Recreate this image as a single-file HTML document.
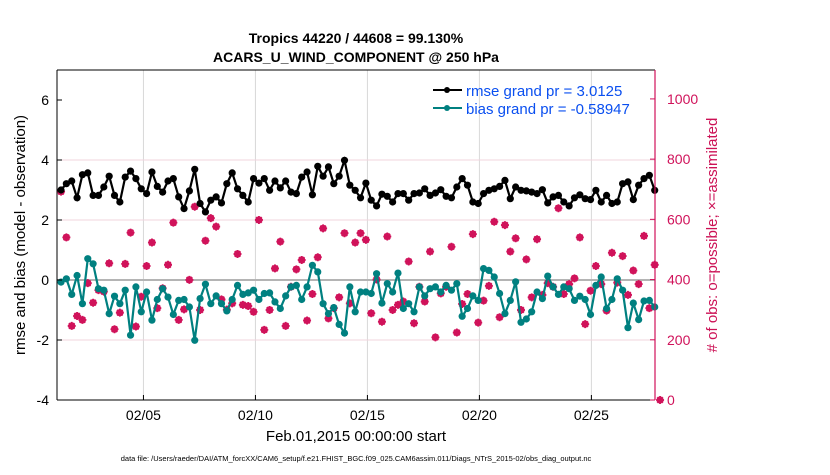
<!DOCTYPE html>
<html><head><meta charset="utf-8"><style>
body{margin:0;background:#fff;}
svg text{font-family:"Liberation Sans",Arial,sans-serif;}
</style></head><body>
<svg id="chart" width="830" height="470" viewBox="0 0 830 470" xmlns="http://www.w3.org/2000/svg">
<text x="356" y="43" text-anchor="middle" font-size="14" font-weight="bold">Tropics 44220 / 44608 = 99.130%</text>
<text x="356" y="62" text-anchor="middle" font-size="14" font-weight="bold">ACARS_U_WIND_COMPONENT @ 250 hPa</text>
<g id="grid"></g>
<g id="marks"></g>
<g id="axes"></g>
<text transform="translate(25,235) rotate(-90)" text-anchor="middle" font-size="15">rmse and bias (model - observation)</text>
<text transform="translate(717,235) rotate(-90)" text-anchor="middle" font-size="15" fill="#cc1155"># of obs: o=possible; ×=assimilated</text>
<text x="356" y="441" text-anchor="middle" font-size="15">Feb.01,2015 00:00:00 start</text>
<text x="356" y="461" text-anchor="middle" font-size="7.5">data file: /Users/raeder/DAI/ATM_forcXX/CAM6_setup/f.e21.FHIST_BGC.f09_025.CAM6assim.011/Diags_NTrS_2015-02/obs_diag_output.nc</text>
<g>
<g><line x1="433" y1="90" x2="462" y2="90" stroke="#000" stroke-width="2"/><circle cx="447" cy="90" r="3" fill="#000"/><text x="466" y="96" font-size="15" fill="#0a4ff0">rmse grand pr = 3.0125</text></g>
<g><line x1="433" y1="108" x2="462" y2="108" stroke="#008080" stroke-width="2"/><circle cx="447" cy="108" r="3" fill="#008080"/><text x="466" y="114" font-size="15" fill="#0a4ff0">bias grand pr = -0.58947</text></g>
</g>
</svg>
<script>
const rmse=[3.0,3.21,3.30,2.74,3.51,3.57,2.82,2.82,3.10,3.46,2.82,2.60,3.43,3.63,3.38,3.04,2.88,3.60,3.12,2.93,3.30,3.38,2.77,2.38,2.97,3.69,2.55,2.27,2.66,
2.77,2.57,3.21,3.57,3.04,2.82,2.60,3.38,3.23,3.38,2.99,3.30,3.07,3.30,2.93,2.88,3.43,3.60,2.84,3.79,3.46,3.77,3.21,3.46,3.99,3.16,2.99,2.74,
3.23,2.66,2.47,2.86,2.79,2.60,2.88,2.88,2.66,2.88,2.90,3.04,2.82,2.90,3.01,2.79,2.74,3.10,3.38,3.16,2.60,2.55,2.88,2.99,3.04,3.12,3.32,2.71,
3.10,2.99,2.97,2.93,2.88,3.01,2.57,2.77,2.82,2.60,2.47,2.74,2.84,2.71,2.68,2.99,2.60,2.82,2.55,2.60,3.21,3.27,2.68,3.16,3.38,3.49,2.99];
const bias=[-0.07,0.04,-0.48,0.15,-0.79,0.71,0.54,-0.29,-0.34,-1.12,-0.54,-0.79,-0.34,-1.84,-0.23,-1.06,-0.40,-1.34,-0.65,-0.29,-0.57,-1.15,-0.68,-0.65,-0.90,-2.01,-0.62,-0.14,-0.79,
-0.53,-0.79,-1.03,-0.65,-0.18,-0.48,-0.43,-0.34,-0.65,-0.45,-0.43,-0.73,-0.95,-0.53,-0.23,-0.18,-0.65,-0.23,0.49,0.27,-0.79,-1.12,-0.92,-1.48,-1.77,-0.23,-1.06,-0.40,
-0.40,-0.45,0.21,-0.77,-0.12,-0.40,0.23,-0.95,-0.79,-1.06,-0.23,-0.53,-0.29,-0.23,-0.40,-0.18,-0.34,-0.12,-1.21,-0.95,-0.53,-0.68,0.38,0.32,0.10,-0.45,-1.12,-0.68,
-0.06,-1.41,-1.30,-1.06,-0.40,-0.62,0.13,-0.23,-0.48,-0.23,-0.29,-0.68,-0.54,-0.65,-1.15,-0.18,0.10,-0.95,-0.65,0.04,-0.34,-1.59,-0.77,-1.32,-0.70,-0.68,-0.90];
const nobs=[692,540,246,279,266,388,323,365,360,454,235,290,452,556,244,343,445,523,305,371,449,589,266,301,399,642,299,529,604,
576,334,300,321,485,316,312,293,598,233,299,437,526,246,376,434,465,264,352,474,570,271,305,341,554,321,523,554,
532,288,400,260,543,299,316,327,460,255,376,327,493,208,354,376,509,224,319,352,551,257,330,379,592,275,581,493,
537,299,467,341,534,349,388,376,637,352,385,404,540,252,363,445,385,297,489,390,478,349,430,385,545,305,449,0];
const xTickLabels=["02/05","02/10","02/15","02/20","02/25"];
const xTickDays=[4,9,14,19,24];
const yTicks=[-4,-2,0,2,4,6];
const y2Ticks=[0,200,400,600,800,1000];
const gridYs=[-2,2,4];

const L=57,R=655,T=70,B=400;
const dayStart=0.14,dayEnd=26.84,step=0.2388,t0=0.32;
const x=d=>L+(d-dayStart)/(dayEnd-dayStart)*(R-L);
const y=v=>B-(v+4)/11*(B-T);
const y2=v=>B-v/1096*(B-T);
const NS="http://www.w3.org/2000/svg";
function mk(tag,attrs,parent){const e=document.createElementNS(NS,tag);for(const k in attrs)e.setAttribute(k,attrs[k]);parent.appendChild(e);return e;}
const grid=document.getElementById('grid'),marks=document.getElementById('marks'),axes=document.getElementById('axes');
const tDay=i=>t0+i*step;

xTickDays.forEach((d,i)=>{
  const g=mk('line',{x1:x(d),x2:x(d),y1:T,y2:B,stroke:'#d8d8d8','stroke-width':1},grid);
  
  
  const tk=mk('line',{x1:x(d),x2:x(d),y1:B,y2:B-5,stroke:'#000'},axes);
  
  
  const t=mk('text',{x:x(d),y:B+20,'text-anchor':'middle','font-size':14},axes);
  t.textContent=xTickLabels[i];
  
  
});
gridYs.forEach(v=>{
  const g=mk('line',{x1:L,x2:R,y1:y(v),y2:y(v),stroke:'#f0d4de','stroke-width':1},grid);
  
  
});
const z=mk('line',{x1:L,x2:R,y1:y(0),y2:y(0),stroke:'#b4b4b4','stroke-width':2},grid);



nobs.forEach((n,i)=>{
  const cx=x(tDay(i)),cy=y2(n);
  const g=mk('g',{},marks);
  
  
  mk('circle',{cx:cx,cy:cy,r:3,fill:'none',stroke:'#d0125a','stroke-width':1.2},g);
  mk('path',{d:`M${cx-4} ${cy}H${cx+4}M${cx} ${cy-4}V${cy+4}M${cx-2.8} ${cy-2.8}L${cx+2.8} ${cy+2.8}M${cx-2.8} ${cy+2.8}L${cx+2.8} ${cy-2.8}`,stroke:'#d0125a','stroke-width':1.8},g);
  mk('circle',{cx:cx,cy:cy,r:2,fill:'#d0125a'},g);
});
function series(arr,color,name){
  const pts=arr.map((v,i)=>x(tDay(i)).toFixed(1)+','+y(v).toFixed(1)).join(' ');
  const pl=mk('polyline',{points:pts,fill:'none',stroke:color,'stroke-width':2.2},marks);
  
  
  arr.forEach((v,i)=>{
    const c=mk('circle',{cx:x(tDay(i)),cy:y(v),r:3.6,fill:color},marks);
    
    
  });
}
series(rmse,'#000','rmse');
series(bias,'#008080','bias');

mk('line',{x1:L,x2:R,y1:T,y2:T,stroke:'#000'},axes);
mk('line',{x1:L,x2:R,y1:B,y2:B,stroke:'#000'},axes);
mk('line',{x1:L,x2:L,y1:T,y2:B,stroke:'#000'},axes);
mk('line',{x1:R,x2:R,y1:T,y2:B,stroke:'#d0125a','stroke-width':1.2},axes);
yTicks.forEach(v=>{
  mk('line',{x1:L,x2:L+5,y1:y(v),y2:y(v),stroke:'#000'},axes);
  const t=mk('text',{x:L-8,y:y(v)+5,'text-anchor':'end','font-size':14},axes);
  t.textContent=v;
  
  
});
y2Ticks.forEach(v=>{
  mk('line',{x1:R-5,x2:R,y1:y2(v),y2:y2(v),stroke:'#d0125a'},axes);
  const t=mk('text',{x:R+12,y:y2(v)+5,'font-size':14,fill:'#d0125a'},axes);
  t.textContent=v;
  
  
});
</script>
</body></html>
